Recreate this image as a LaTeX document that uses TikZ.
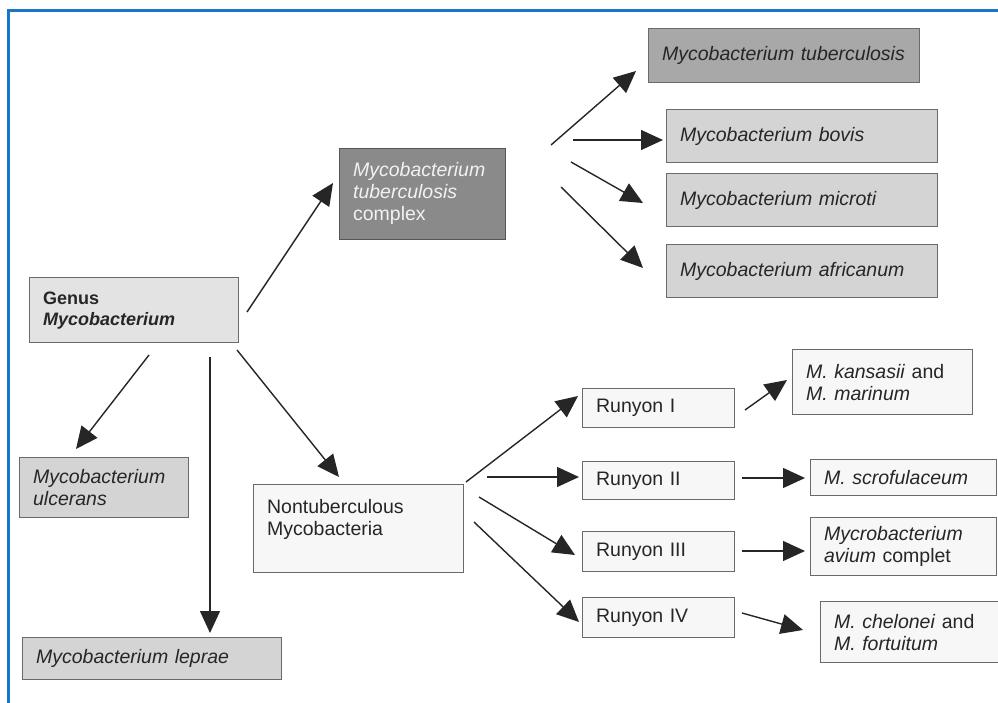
\documentclass[tikz,border=0pt]{standalone}
\usepackage{fontspec}
\setmainfont{Liberation Sans}
\usetikzlibrary{arrows.meta}
\definecolor{frameblue}{HTML}{1A75C9}
\definecolor{boxline}{HTML}{6A6A6A}
\definecolor{arrowc}{HTML}{262626}
\definecolor{genusfill}{HTML}{E3E3E3}
\definecolor{complexfill}{HTML}{8A8A8A}
\definecolor{tbfill}{HTML}{A8A8A8}
\definecolor{midfill}{HTML}{D4D4D4}
\definecolor{lightfill}{HTML}{F7F7F7}
\definecolor{complextext}{HTML}{F2F2F2}
\begin{document}
\begin{tikzpicture}[x=1pt,y=-1pt,
  box/.style={draw=boxline, line width=1.2pt, anchor=north west, inner xsep=13.5pt,
    inner ysep=0pt, align=left, font=\fontsize{19.5}{22}\selectfont, text=black!85},
  arr/.style={-{Triangle[length=22pt,width=20pt]}, line width=1.4pt, draw=arrowc, fill=arrowc}]
\useasboundingbox (0,0) rectangle (998,703);
% frame
\draw[frameblue, line width=2.2pt] (8.5,703) -- (8.5,10.5) -- (998,10.5);

% nodes
\node[box, fill=genusfill, text width=182pt, minimum height=65pt, font=\fontsize{18}{21}\selectfont\bfseries] (genus) at (29,277) {Genus\\\textit{Mycobacterium}};
\node[box, fill=complexfill, draw=boxline!80!black, text width=139pt, minimum height=91pt, text=complextext] (complex) at (339,148) {\textit{Mycobacterium}\\\textit{tuberculosis}\\complex\rule[-6pt]{0pt}{6pt}};
\node[box, fill=tbfill, text width=244pt, minimum height=54pt] (tb) at (648,28) {\textit{Mycobacterium tuberculosis}};
\node[box, fill=midfill, text width=244pt, minimum height=53pt] (bovis) at (666,109) {\textit{Mycobacterium bovis}};
\node[box, fill=midfill, text width=244pt, minimum height=53pt] (microti) at (666,173) {\textit{Mycobacterium microti}};
\node[box, fill=midfill, text width=244pt, minimum height=53pt] (africanum) at (666,244) {\textit{Mycobacterium africanum}};
\node[box, fill=midfill, text width=142pt, minimum height=60pt] (ulcerans) at (19,457) {\textit{Mycobacterium}\\\textit{ulcerans}};
\node[box, fill=midfill, text width=232pt, minimum height=42pt] (leprae) at (22,637) {\textit{Mycobacterium leprae}};
\node[box, fill=lightfill, text width=183pt, minimum height=88pt] (ntm) at (253,484) {Nontuberculous\\Mycobacteria\\\mbox{}};
\node[box, fill=lightfill, text width=125pt, minimum height=39pt] (r1) at (582,388) {Runyon I};
\node[box, fill=lightfill, text width=125pt, minimum height=38pt] (r2) at (582,461) {Runyon II};
\node[box, fill=lightfill, text width=125pt, minimum height=40pt] (r3) at (582,531) {Runyon III};
\node[box, fill=lightfill, text width=125pt, minimum height=40pt] (r4) at (582,597) {Runyon IV};
\node[box, fill=lightfill, text width=153pt, minimum height=65pt] (kans) at (792,349) {\textit{M. kansasii} and\\\textit{M. marinum}};
\node[box, fill=lightfill, text width=159pt, minimum height=36pt] (scrof) at (810,459) {\textit{M. scrofulaceum}};
\node[box, fill=lightfill, text width=159pt, minimum height=58pt] (avium) at (810,517) {\textit{Mycrobacterium}\\\textit{avium} complet};
\node[box, fill=lightfill, text width=163pt, minimum height=61pt] (chel) at (820,601) {\textit{M. chelonei} and\\\textit{M. fortuitum}};

% connector end points
\coordinate (g1s) at (247,312); \coordinate (g1e) at (333,183);
\coordinate (g2s) at (149,355); \coordinate (g2e) at (76,449);
\coordinate (g3s) at (210,357); \coordinate (g3e) at (210,633);
\coordinate (g4s) at (237,350); \coordinate (g4e) at (339,477);
\coordinate (c1s) at (551,145); \coordinate (c1e) at (636,71);
\coordinate (c2s) at (573,140); \coordinate (c2e) at (663,140);
\coordinate (c3s) at (571,162); \coordinate (c3e) at (643,203);
\coordinate (c4s) at (561,187); \coordinate (c4e) at (643,268);
\coordinate (n1s) at (466,482); \coordinate (n1e) at (578,396);
\coordinate (n2s) at (487,477); \coordinate (n2e) at (579,477);
\coordinate (n3s) at (479,497); \coordinate (n3e) at (575,555);
\coordinate (n4s) at (474,522); \coordinate (n4e) at (579,622);
\coordinate (k1s) at (745,410); \coordinate (k1e) at (787,380);
\coordinate (k2s) at (742,478); \coordinate (k2e) at (805,478);
\coordinate (k3s) at (742,551); \coordinate (k3e) at (805,551);
\coordinate (k4s) at (742,613); \coordinate (k4e) at (803,630);

\foreach \a in {g1,g2,g3,g4,c1,c2,c3,c4,n1,n2,n3,n4,k1,k2,k3,k4}
  \draw[arr] (\a s) -- (\a e);
\end{tikzpicture}
\end{document}
